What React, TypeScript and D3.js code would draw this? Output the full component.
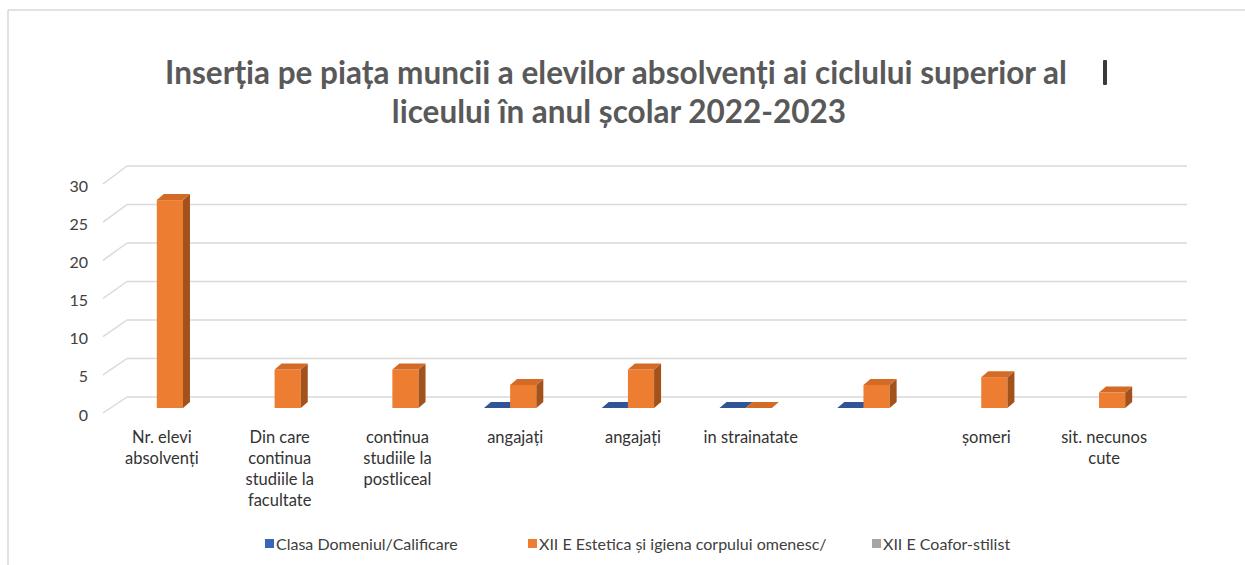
import React, { useEffect, useRef } from "react";
import * as d3 from "d3";

const title = [
  "Inserția pe piața muncii a elevilor absolvenți ai ciclului superior al",
  "liceului în anul școlar 2022-2023",
];

const categories = [
  "Nr. elevi absolvenți",
  "Din care continua studiile la facultate",
  "continua studiile la postliceal",
  "angajați",
  "angajați",
  "in strainatate",
  "",
  "șomeri",
  "sit. necunos cute",
];

const seriesNames = [
  "Clasa Domeniul/Calificare",
  "XII E Estetica și igiena corpului omenesc/",
  "XII E Coafor-stilist",
];

const blueValues: (number | null)[] = [null, null, null, 0, 0, 0, 0, null, null];
const orangeValues: (number | null)[] = [27, 5, 5, 3, 5, 0, 3, 4, 2];
const grayValues: (number | null)[] = [null, null, null, null, null, null, null, null, null];

const yTicks = [0, 5, 10, 15, 20, 25, 30];

const seriesColors = [
  { front: "#4472C4", side: "#2B4A80", top: "#2F5597", legend: "#3A66B8" },
  { front: "#ED7D31", side: "#A3521C", top: "#D36A25", legend: "#ED7D31" },
  { front: "#A5A5A5", side: "#6E6E6E", top: "#8C8C8C", legend: "#A5A5A5" },
];

export default function App() {
  const ref = useRef<SVGSVGElement | null>(null);

  useEffect(() => {
    const svg = d3.select(ref.current);
    svg.selectAll("*").remove();

    const W = 1245, H = 565;
    const grid = "#d9d9d9";

    // frame
    svg.append("line").attr("x1", 8).attr("y1", 10).attr("x2", W).attr("y2", 10)
      .attr("stroke", grid).attr("stroke-width", 1.5);
    svg.append("line").attr("x1", 8).attr("y1", 10).attr("x2", 8).attr("y2", H)
      .attr("stroke", grid).attr("stroke-width", 1.5);
    svg.append("rect").attr("x", 1103).attr("y", 60).attr("width", 4).attr("height", 25)
      .attr("fill", "#3a3a3a").attr("rx", 1);

    // title
    const t = svg.append("text").attr("text-anchor", "middle")
      .attr("font-family", "Lato, 'Open Sans', sans-serif").attr("font-weight", 700)
      .attr("font-size", 31.5).attr("fill", "#595959");
    t.append("tspan").attr("x", 616).attr("y", 84).text(title[0]);
    t.append("tspan").attr("x", 619).attr("y", 123).text(title[1]);

    // scales
    const yBack = d3.scaleLinear().domain([0, 30]).range([397, 166]);
    const yFront = d3.scaleLinear().domain([0, 30]).range([413, 184]);
    const yBar = d3.scaleLinear().domain([0, 30]).range([408, 177]);
    const backX0 = 127, backX1 = 1187, frontX0 = 103;
    const xBand = d3.scaleBand<number>().domain(categories.map((_, i) => i))
      .range([frontX0, frontX0 + (backX1 - backX0)]).paddingInner(0).paddingOuter(0);
    const barPlaneShift = 8;
    const bw = xBand.bandwidth() / 4.5;
    const dx = 7, dy = -6;

    // gridlines
    yTicks.forEach((v) => {
      svg.append("line").attr("x1", backX0).attr("x2", backX1)
        .attr("y1", yBack(v)).attr("y2", yBack(v)).attr("stroke", grid).attr("stroke-width", 1.5);
      svg.append("line").attr("x1", frontX0).attr("y1", yFront(v))
        .attr("x2", backX0).attr("y2", yBack(v)).attr("stroke", grid).attr("stroke-width", 1.5);
      svg.append("text").attr("x", 88).attr("y", yFront(v) + 1).attr("text-anchor", "end")
        .attr("dominant-baseline", "central").attr("font-family", "Lato, sans-serif")
        .attr("font-size", 16).attr("fill", "#404040").text(String(v));
    });

    // bars
    const all = [blueValues, orangeValues, grayValues];
    categories.forEach((_, i) => {
      all.forEach((vals, s) => {
        const v = vals[i];
        if (v === null || v === undefined) return;
        const c = seriesColors[s];
        const x0 = (xBand(i) as number) + barPlaneShift + bw * 0.75 + s * bw;
        const x1 = x0 + bw;
        const yb = yBar(0), yt = yBar(v);
        const g = svg.append("g");
        if (v > 0) {
          g.append("rect").attr("x", x0).attr("y", yt).attr("width", bw).attr("height", yb - yt)
            .attr("fill", c.front);
          g.append("path").attr("d", `M${x1},${yb}L${x1 + dx},${yb + dy}L${x1 + dx},${yt + dy}L${x1},${yt}Z`)
            .attr("fill", c.side);
        }
        g.append("path").attr("d", `M${x0},${yt}L${x1},${yt}L${x1 + dx},${yt + dy}L${x0 + dx},${yt + dy}Z`)
          .attr("fill", c.top);
      });
    });

    // category labels
    const labG = svg.append("g").attr("font-family", "Lato, sans-serif").attr("font-size", 16.5)
      .attr("fill", "#333");
    categories.forEach((name, i) => {
      const cx = (xBand(i) as number) + xBand.bandwidth() / 2;
      const txt = labG.append("text").attr("text-anchor", "middle");
      const words = name.split(" ").filter((w) => w.length);
      let line: string[] = [];
      let lineNo = 0;
      let ts = txt.append("tspan").attr("x", cx).attr("y", 443);
      words.forEach((w) => {
        line.push(w);
        ts.text(line.join(" "));
        if ((ts.node() as SVGTSpanElement).getComputedTextLength() > 106 && line.length > 1) {
          line.pop();
          ts.text(line.join(" "));
          line = [w];
          lineNo++;
          ts = txt.append("tspan").attr("x", cx).attr("y", 443 + lineNo * 21).text(w);
        }
      });
    });

    // legend
    const legX = [265, 528, 872];
    const lg = svg.append("g").attr("font-family", "Lato, sans-serif").attr("font-size", 16)
      .attr("fill", "#404040");
    seriesNames.forEach((n, s) => {
      lg.append("rect").attr("x", legX[s]).attr("y", 539).attr("width", 9).attr("height", 9)
        .attr("fill", seriesColors[s].legend);
      lg.append("text").attr("x", legX[s] + 11).attr("y", 543.5).attr("dominant-baseline", "central")
        .text(n);
    });
  }, []);

  return (
    <svg ref={ref} width={1245} height={565}
      style={{ position: "absolute", left: 0, top: 0, background: "#fff" }} />
  );
}
